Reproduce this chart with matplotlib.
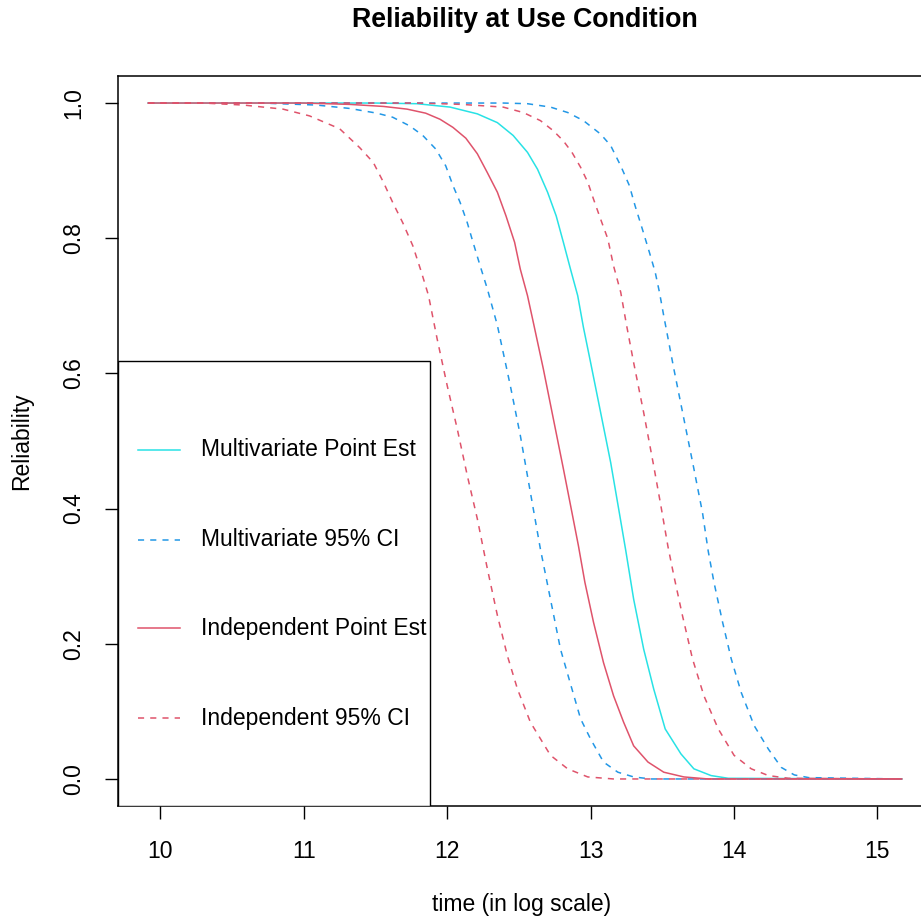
import matplotlib
matplotlib.use("Agg")
import matplotlib.pyplot as plt
from matplotlib.patches import Rectangle
import numpy as np

plt.rcParams['font.family'] = ['Liberation Sans', 'DejaVu Sans']

# curves: log time vs reliability
mv_x = [9.915, 11.5, 11.79, 12.02, 12.21, 12.35, 12.46, 12.56, 12.63, 12.70, 12.76, 12.81,
        12.86, 12.91, 12.95, 13.0, 13.07, 13.14, 13.20, 13.245, 13.30, 13.37, 13.44, 13.52,
        13.63, 13.72, 13.84, 13.96, 15.17]
mv_est = [1.0, 1.0, 0.999, 0.994, 0.984, 0.971, 0.952, 0.927, 0.902, 0.868, 0.833, 0.794,
          0.754, 0.715, 0.668, 0.616, 0.542, 0.468, 0.394, 0.338, 0.266, 0.192, 0.133, 0.074,
          0.037, 0.015, 0.005, 0.001, 0.0]

mv_lo_x = [9.915, 10.7, 11.09, 11.32, 11.51, 11.62, 11.74, 11.83, 11.92, 11.99, 12.04, 12.09,
           12.14, 12.18, 12.23, 12.28, 12.35, 12.44, 12.51, 12.58, 12.65, 12.72, 12.79, 12.87,
           12.93, 13.0, 13.09, 13.19, 13.30, 13.42, 15.17]
mv_lo = [1.0, 1.0, 0.997, 0.992, 0.985, 0.979, 0.966, 0.952, 0.932, 0.907, 0.878, 0.853,
         0.823, 0.794, 0.759, 0.725, 0.671, 0.582, 0.508, 0.424, 0.340, 0.266, 0.192, 0.133,
         0.089, 0.059, 0.025, 0.010, 0.003, 0.0, 0.0]

mv_hi_x = [9.915, 12.39, 12.56, 12.72, 12.84, 12.95, 13.07, 13.14, 13.21, 13.27, 13.31, 13.36,
           13.41, 13.45, 13.48, 13.51, 13.58, 13.65, 13.72, 13.78, 13.82, 13.86, 13.92, 13.98,
           14.05, 14.14, 14.24, 14.33, 14.42, 14.52, 15.17]
mv_hi = [1.0, 1.0, 0.999, 0.994, 0.986, 0.974, 0.954, 0.937, 0.907, 0.878, 0.848, 0.814,
         0.779, 0.750, 0.720, 0.685, 0.607, 0.533, 0.459, 0.394, 0.337, 0.291, 0.232, 0.178,
         0.128, 0.079, 0.044, 0.017, 0.006, 0.002, 0.0]

ind_x = [9.915, 11.0, 11.32, 11.555, 11.72, 11.85, 11.95, 12.04, 12.13, 12.21, 12.28, 12.35,
         12.41, 12.47, 12.51, 12.56, 12.60, 12.67, 12.74, 12.81, 12.87, 12.915, 12.96, 13.02,
         13.09, 13.16, 13.23, 13.30, 13.40, 13.51, 13.65, 13.82, 15.17]
ind_est = [1.0, 1.0, 0.998, 0.995, 0.991, 0.985, 0.976, 0.964, 0.948, 0.925, 0.897, 0.868,
           0.833, 0.794, 0.754, 0.715, 0.676, 0.607, 0.533, 0.459, 0.394, 0.345, 0.291, 0.232,
           0.172, 0.123, 0.084, 0.049, 0.025, 0.010, 0.003, 0.0, 0.0]

ind_lo_x = [9.915, 10.3, 10.58, 10.855, 11.04, 11.25, 11.39, 11.485, 11.555, 11.62, 11.69,
            11.76, 11.82, 11.87, 11.93, 12.0, 12.07, 12.14, 12.21, 12.28, 12.35, 12.42, 12.49,
            12.58, 12.72, 12.84, 12.98, 13.16, 15.17]
ind_lo = [1.0, 1.0, 0.997, 0.991, 0.981, 0.962, 0.934, 0.912, 0.883, 0.853, 0.823,
          0.789, 0.750, 0.715, 0.651, 0.582, 0.518, 0.449, 0.385, 0.311, 0.242, 0.182, 0.133,
          0.084, 0.035, 0.015, 0.003, 0.0, 0.0]

ind_hi_x = [9.915, 11.8, 12.1, 12.39, 12.53, 12.65, 12.74, 12.81, 12.87, 12.93, 12.98, 13.02,
            13.07, 13.12, 13.16, 13.21, 13.25, 13.30, 13.37, 13.44, 13.49, 13.54, 13.58, 13.64,
            13.71, 13.79, 13.89, 14.0, 14.12, 14.24, 14.38, 15.17]
ind_hi = [1.0, 1.0, 0.998, 0.994, 0.986, 0.974, 0.959, 0.944, 0.927, 0.905, 0.883, 0.858,
          0.828, 0.799, 0.759, 0.720, 0.672, 0.616, 0.542, 0.463, 0.404, 0.343, 0.301, 0.242,
          0.178, 0.123, 0.074, 0.035, 0.015, 0.005, 0.001, 0.0]

labels = ["Multivariate Point Est", "Multivariate 95% CI",
          "Independent Point Est", "Independent 95% CI"]

cyan = "#28E2E5"
blue = "#2297E6"
red = "#DF536B"
fs = 16.5

fig = plt.figure(figsize=(9.21, 9.18), dpi=100)
ax = fig.add_axes([118/921, 112/918, 814/921, 730/918])

lw = 1.1
ax.plot(mv_x, mv_est, color=cyan, lw=lw)
ax.plot(mv_lo_x, mv_lo, color=blue, lw=lw, dashes=(4, 4))
ax.plot(mv_hi_x, mv_hi, color=blue, lw=lw, dashes=(4, 4))
ax.plot(ind_x, ind_est, color=red, lw=lw)
ax.plot(ind_lo_x, ind_lo, color=red, lw=lw, dashes=(4, 4))
ax.plot(ind_hi_x, ind_hi, color=red, lw=lw, dashes=(4, 4))

# R style 4% padding
allx = mv_x + mv_lo_x + mv_hi_x + ind_x + ind_lo_x + ind_hi_x
lo, hi = min(allx), max(allx)
ax.set_xlim(lo - 0.04*(hi - lo), hi + 0.04*(hi - lo))
ax.set_ylim(-0.04, 1.04)

ax.set_xticks([10, 11, 12, 13, 14, 15])
ax.set_yticks([0.0, 0.2, 0.4, 0.6, 0.8, 1.0])
ax.set_yticklabels(["0.0", "0.2", "0.4", "0.6", "0.8", "1.0"], rotation=90, va='center')
ax.tick_params(direction='out', length=9.4, width=1.0, labelsize=fs, pad=14)
ax.tick_params(axis='x', pad=15)
for s in ax.spines.values():
    s.set_linewidth(1.1)

# legend box drawn like R's legend()
ax.add_patch(Rectangle((0, 0), 0.3833, 0.6096, transform=ax.transAxes,
                       facecolor='white', edgecolor='black', lw=1.0, zorder=5))
ly = [0.4877, 0.3644, 0.2438, 0.1205]
lcol = [cyan, blue, red, red]
lsty = [None, (4, 4), None, (4, 4)]
for i in range(4):
    ln, = ax.plot([0.0246, 0.0762], [ly[i], ly[i]], color=lcol[i], lw=lw,
                  transform=ax.transAxes, zorder=6)
    if lsty[i]:
        ln.set_dashes(lsty[i])
    ax.text(0.102, ly[i], labels[i], transform=ax.transAxes, fontsize=fs,
            va='center', ha='left', zorder=6)

fig.text(525/921, 1 - 20/918, "Reliability at Use Condition", ha='center', va='center',
         fontsize=19.3, fontweight='bold')
fig.text(522/921, 1 - 905/918, "time (in log scale)", ha='center', va='center', fontsize=fs)
fig.text(22/921, 1 - 441/918, "Reliability", ha='center', va='center', fontsize=fs,
         rotation=90)

fig.savefig("out.png", dpi=100)
